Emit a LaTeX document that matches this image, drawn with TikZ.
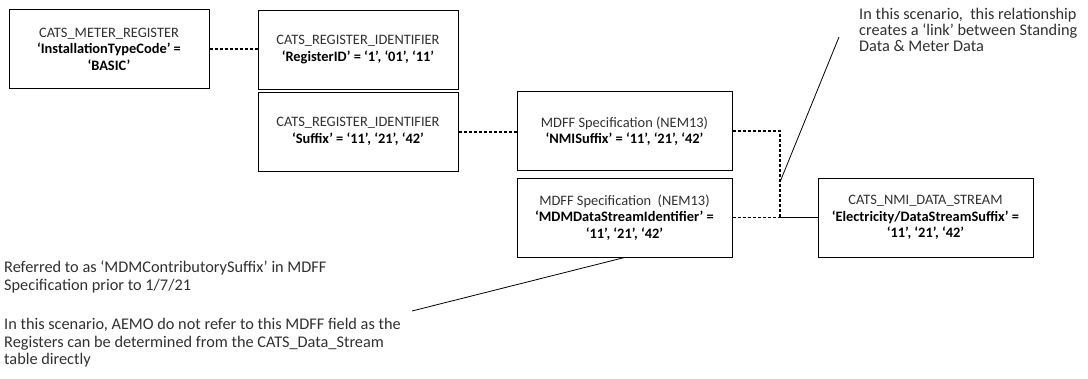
\documentclass[tikz,border=0pt]{standalone}
\usepackage{fontspec}
\setmainfont{Carlito}
\definecolor{txtgray}{HTML}{303030}
\begin{document}
\begin{tikzpicture}[x=1pt,y=-1pt,
  box/.style={draw=black, line width=1pt, align=center, inner sep=0pt,
    font=\fontsize{14.4}{16.5}\selectfont, text=txtgray},
  sbox/.style={box, minimum width=200pt, minimum height=79pt},
  wbox/.style={box, minimum width=215pt, minimum height=79pt},
  link/.style={line width=1.4pt, dash pattern=on 3pt off 2pt},
  callout/.style={line width=0.8pt},
  note/.style={align=left, inner sep=0pt, anchor=north west,
    font=\fontsize{16.3}{17.5}\selectfont, text=txtgray}]
\useasboundingbox (0,0) rectangle (1088,378);
\node[sbox] (b1) at (109,49) {CATS\_METER\_REGISTER\\\textbf{\color{black}‘InstallationTypeCode’ =}\\\textbf{\color{black}‘BASIC’}};
\node[sbox] (b2) at (358,49.5) {CATS\_REGISTER\_IDENTIFIER\\\textbf{\color{black}‘RegisterID’ = ‘1’, ‘01’, ‘11’}};
\node[sbox] (b3) at (358,131.5) {CATS\_REGISTER\_IDENTIFIER\\\textbf{\color{black}‘Suffix’ = ‘11’, ‘21’, ‘42’}};
\node[wbox] (b4) at (624.5,131) {MDFF Specification (NEM13)\\\textbf{\color{black}‘NMISuffix’ = ‘11’, ‘21’, ‘42’}};
\node[wbox] (b5) at (624.5,217.5) {MDFF Specification\ \ (NEM13)\\\textbf{\color{black}‘MDMDataStreamIdentifier’ =}\\\textbf{\color{black}‘11’, ‘21’, ‘42’}};
\node[wbox] (b6) at (925.5,217.5) {CATS\_NMI\_DATA\_STREAM\\\textbf{\color{black}‘Electricity/DataStreamSuffix’ =}\\\textbf{\color{black}‘11’, ‘21’, ‘42’}};
% dotted relationships
\draw[link] (b1.east) -- (b1.east -| b2.west);
\draw[link] (b4.west |- b3.east) ++(0,0.5) coordinate (b34) (b3.east) ++(0,0.5) -- (b34);
\coordinate (elbowTop) at (780,131);
\coordinate (elbowBot) at (780,217.5);
\draw[link] (b4.east) -- (elbowTop) -- (elbowBot) -- (b6.west);
\draw[link] (b5.east) -- (b6.west);
% notes
\node[note, font=\fontsize{16.3}{16}\selectfont] (n1) at (859,7.5) {In this scenario,\ \ this relationship\\creates a ‘link’ between Standing\\Data \& Meter Data};
\node[note] (n2) at (4,261) {Referred to as ‘MDMContributorySuffix’ in MDFF\\Specification prior to 1/7/21};
\node[note] (n3) at (4,318) {In this scenario, AEMO do not refer to this MDFF field as the\\Registers can be determined from the CATS\_Data\_Stream\\table directly};
% callout lines
\coordinate (c1a) at (780,182);
\coordinate (c1b) at (839,37);
\draw[callout] (c1a) -- (c1b);
\coordinate (c2b) at (412,311);
\draw[callout] (b5.south) -- (c2b);
\end{tikzpicture}
\end{document}
